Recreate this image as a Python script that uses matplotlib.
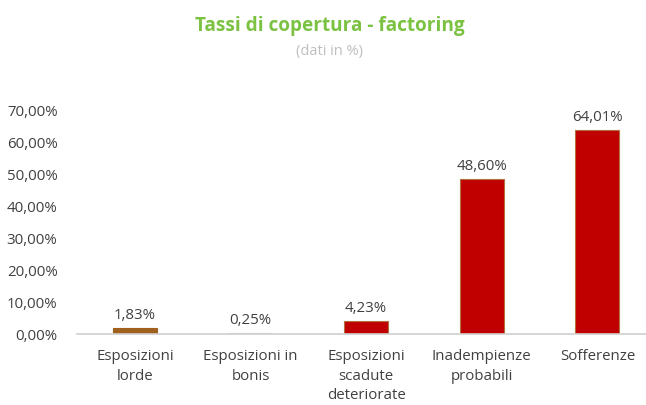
import matplotlib.pyplot as plt
from matplotlib.ticker import FuncFormatter

categories = [
    "Esposizioni\nlorde",
    "Esposizioni in\nbonis",
    "Esposizioni\nscadute\ndeteriorate",
    "Inadempienze\nprobabili",
    "Sofferenze",
]
values = [1.83, 0.25, 4.23, 48.60, 64.01]
yticks = [0, 10, 20, 30, 40, 50, 60, 70]

plt.rcParams["font.family"] = ["Open Sans", "DejaVu Sans"]

colors = ["#A0601E", "#B0B0B0", "#C00000", "#C00000", "#C00000"]
edges = ["#A0601E", "#C8C8C8", "#B07040", "#B07040", "#B07040"]

fig = plt.figure(figsize=(6.46, 4.05), dpi=100)
ax = fig.add_axes([77 / 646, 71 / 405, 1 - 77 / 646, 223 / 405])

x = range(len(categories))
ax.bar(x, values, width=0.38, color=colors, edgecolor=edges, linewidth=0.8)

# Value labels
for i, v in enumerate(values):
    ax.text(i, v + 1.5, f"{v:.2f}%".replace(".", ","),
            ha="center", va="bottom", fontsize=10.8, color="#404040")

ax.set_xlim(-0.5, 4.42)
ax.set_ylim(0, 70)
ax.set_yticks(yticks)
ax.yaxis.set_major_formatter(FuncFormatter(lambda v, p: f"{v:.2f}%".replace(".", ",")))
ax.set_xticks(list(x))
ax.set_xticklabels(categories, fontsize=10.8, color="#404040", linespacing=1.4)
ax.tick_params(axis="y", length=0, pad=14, labelsize=10.8, labelcolor="#404040")
ax.tick_params(axis="x", length=0, pad=11)

for s in ["top", "right", "left"]:
    ax.spines[s].set_visible(False)
ax.spines["bottom"].set_color("#D0D0D0")
ax.spines["bottom"].set_linewidth(1.2)

fig.text(0.51, 0.935, "Tassi di copertura - factoring", ha="center", va="center",
         fontsize=13.7, fontweight="bold", color="#7CC242")
fig.text(0.51, 0.872, "(dati in %)", ha="center", va="center",
         fontsize=10.5, color="#BFBFBF")

plt.savefig("out.png", dpi=100)
